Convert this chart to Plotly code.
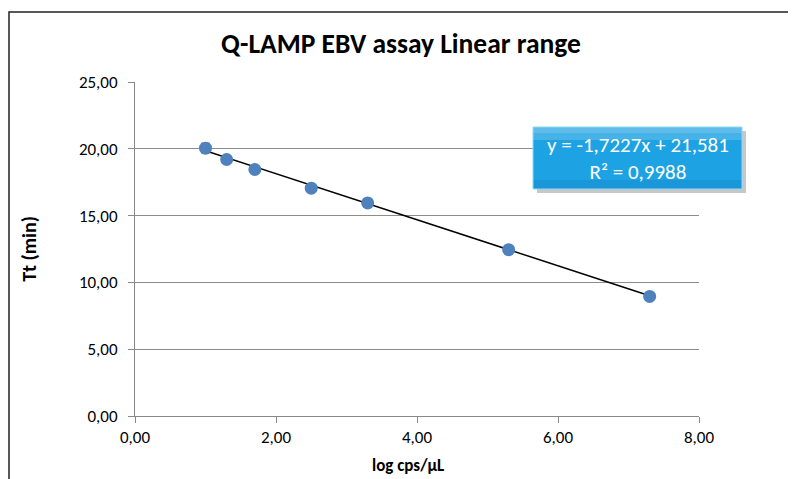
import plotly.graph_objects as go
import numpy as np

log_cps = [1.0, 1.3, 1.7, 2.5, 3.3, 5.3, 7.3]
tt_min = [20.05, 19.2, 18.45, 17.05, 15.95, 12.45, 8.95]
tt_err = [0.35, 0.15, 0.3, 0.15, 0.1, 0.1, 0.1]
slope = -1.7227
intercept = 21.581
r2 = 0.9988

FONT = "Carlito, Liberation Sans Narrow, Lato, Open Sans, sans-serif"

# page body has an 8px offset; plot area in page pixels: x 135-699, y 82-416
L, R, T, B = 127, 105, 74, 71
PW, PH = 564, 334


def px(xp):
    return (xp - 135) / PW


def py(yp):
    return (416 - yp) / PH


fig = go.Figure()
x_fit = np.array([min(log_cps), max(log_cps)])
fig.add_trace(go.Scatter(x=x_fit, y=slope * x_fit + intercept, mode="lines",
                         line=dict(color="black", width=1.5), hoverinfo="skip",
                         showlegend=False))
fig.add_trace(go.Scatter(x=log_cps, y=tt_min, mode="markers",
                         marker=dict(color="#4F81BD", size=13),
                         error_y=dict(type="data", array=tt_err, color="black",
                                      thickness=1.2, width=4),
                         showlegend=False))

eq_text = "y = %sx + %s<br>R² = %s" % (
    ("%.4f" % slope).replace(".", ","), ("%.3f" % intercept).replace(".", ","),
    ("%.4f" % r2).replace(".", ","))

box_shapes = [
    dict(type="rect", xref="paper", yref="paper",
         x0=px(537), x1=px(746), y0=py(193), y1=py(131),
         line=dict(width=0), fillcolor="rgba(0,0,0,0.22)"),
    dict(type="rect", xref="paper", yref="paper",
         x0=px(533), x1=px(742), y0=py(189), y1=py(127),
         line=dict(width=0), fillcolor="#1da2e3"),
    dict(type="rect", xref="paper", yref="paper",
         x0=px(533), x1=px(742), y0=py(140), y1=py(127),
         line=dict(width=0), fillcolor="rgba(255,255,255,0.18)"),
    dict(type="rect", xref="paper", yref="paper",
         x0=px(533), x1=px(742), y0=py(133), y1=py(127),
         line=dict(width=0), fillcolor="rgba(255,255,255,0.15)"),
    dict(type="rect", xref="paper", yref="paper",
         x0=px(533), x1=px(742), y0=py(189), y1=py(180),
         line=dict(width=0), fillcolor="rgba(0,60,140,0.10)"),
    dict(type="rect", xref="paper", yref="paper",
         x0=px(533), x1=px(742), y0=py(189), y1=py(127),
         line=dict(color="#8fd8f7", width=1), fillcolor="rgba(0,0,0,0)"),
]

fig.update_layout(
    width=796, height=479,
    margin=dict(l=L, r=R, t=T, b=B),
    paper_bgcolor="white", plot_bgcolor="white",
    separators=", ",
    font=dict(family=FONT, color="black"),
    title=dict(text="<b>Q-LAMP EBV assay Linear range</b>", x=(401 - 8) / 796,
               xanchor="center", xref="container",
               y=1 - (43 - 8) / 479, yanchor="middle",
               font=dict(size=27.5, family=FONT)),
    xaxis=dict(range=[0, 8], dtick=2, tickformat=".2f", showgrid=False,
               showline=True, linecolor="#888888", linewidth=1,
               ticks="outside", ticklen=6, tickcolor="#888888",
               tickfont=dict(size=17), zeroline=False),
    yaxis=dict(range=[0, 25], dtick=5, tickformat=".2f", showgrid=True,
               gridcolor="#8c8c8c", gridwidth=1,
               showline=True, linecolor="#888888", linewidth=1,
               ticks="outside", ticklen=6, tickcolor="#888888",
               ticklabelstandoff=7,
               tickfont=dict(size=17), zeroline=False,
               title=dict(text="<b>Tt (min)</b>", font=dict(size=20), standoff=36)),
    shapes=[
        dict(type="rect", xref="paper", yref="paper", x0=px(9), x1=1.4,
             y0=-0.4, y1=py(12), line=dict(color="#222222", width=1.5),
             fillcolor="rgba(0,0,0,0)", layer="below"),
    ] + box_shapes,
    annotations=[
        dict(text=eq_text, xref="paper", yref="paper",
             x=px(638), y=py(158),
             xanchor="center", yanchor="middle", showarrow=False, align="center",
             font=dict(size=21, color="white", family=FONT)),
        dict(text="<b>log cps/µL</b>", xref="paper", yref="paper",
             x=px(408), y=py(465), xanchor="center", yanchor="middle",
             showarrow=False, font=dict(size=17, family=FONT)),
    ],
)

fig.write_html("out.html")
